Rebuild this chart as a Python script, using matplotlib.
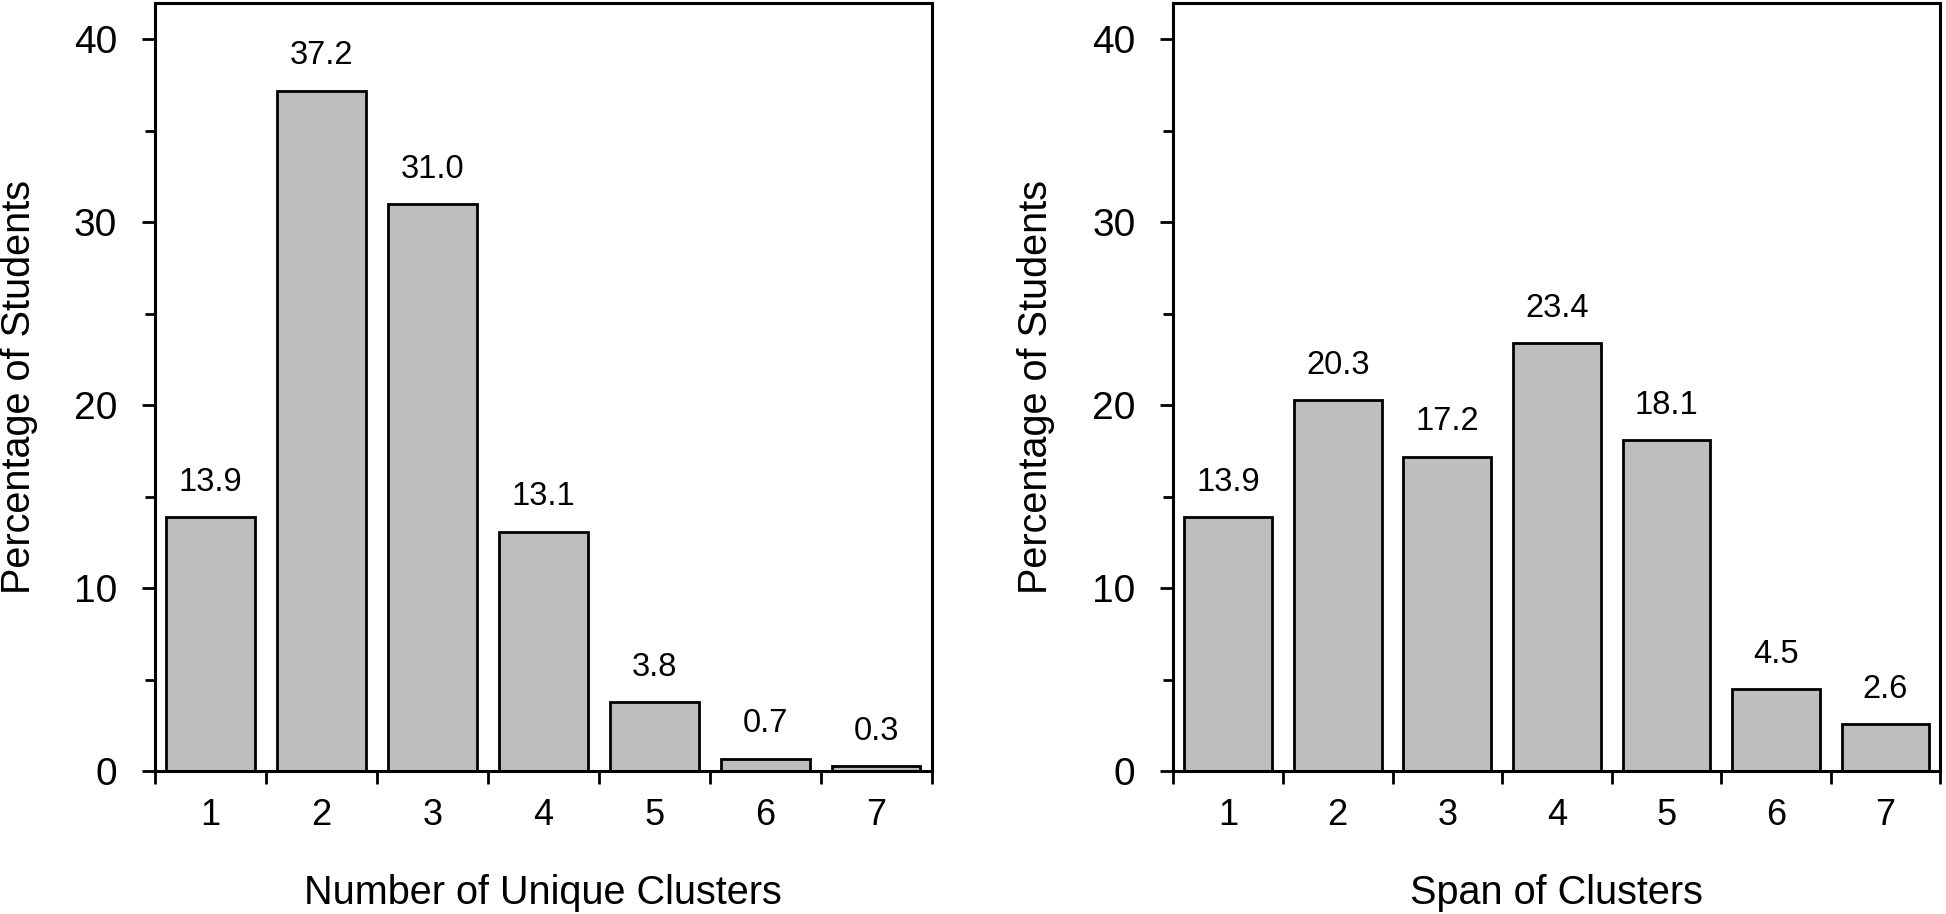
import matplotlib
matplotlib.use("Agg")
import matplotlib.pyplot as plt
import numpy as np

categories = [1, 2, 3, 4, 5, 6, 7]
unique_clusters = [13.9, 37.2, 31.0, 13.1, 3.8, 0.7, 0.3]
span_clusters = [13.9, 20.3, 17.2, 23.4, 18.1, 4.5, 2.6]
y_ticks = [0, 10, 20, 30, 40]
x_labels = ["Number of Unique Clusters", "Span of Clusters"]
y_label = "Percentage of Students"

plt.rcParams['font.family'] = ['Liberation Sans', 'DejaVu Sans']

fig = plt.figure(figsize=(19.46, 9.14), dpi=100)
axes = [fig.add_axes([0.0797, 0.156, 0.399, 0.841]),
        fig.add_axes([0.603, 0.156, 0.394, 0.841])]

for ax, vals, xl, ylc in zip(axes, [unique_clusters, span_clusters], x_labels, [-0.175, -0.179]):
    x = np.array(categories)
    ax.bar(x, vals, width=0.8, color='#bebebe', edgecolor='black', linewidth=2.0, zorder=2)
    for xi, v in zip(x, vals):
        ax.annotate(f"{v:.1f}", xy=(xi, v), xytext=(0, 25), textcoords='offset points',
                    ha='center', va='center', fontsize=23.5)
    ax.set_xlim(0.5, 7.5)
    ax.set_ylim(0, 42)
    edges = np.arange(0.5, 8.0, 1.0)
    ax.set_xticks(edges)
    ax.set_xticklabels([''] * len(edges))
    ax.set_xticks(x, minor=True)
    ax.set_xticklabels([str(c) for c in categories], minor=True)
    ax.tick_params(axis='x', which='major', direction='out', length=9.4, width=2.0)
    ax.tick_params(axis='x', which='minor', length=0, labelsize=26, pad=19)
    ax.set_yticks(y_ticks)
    ax.set_yticks([5, 15, 25, 35], minor=True)
    ax.tick_params(axis='y', which='major', direction='out', length=9.4, width=2.0,
                   labelsize=28, pad=18)
    ax.tick_params(axis='y', which='minor', direction='out', length=7.0, width=2.0)
    for s in ax.spines.values():
        s.set_linewidth(2.2)
    ax.set_xlabel(xl, fontsize=28.5)
    ax.xaxis.set_label_coords(0.5, -0.158)
    ax.xaxis.label.set_va('center')
    ax.set_ylabel(y_label, fontsize=28.5)
    ax.yaxis.set_label_coords(ylc, 0.5)
    ax.yaxis.label.set_va('center')

fig.savefig("out.png", dpi=100)
